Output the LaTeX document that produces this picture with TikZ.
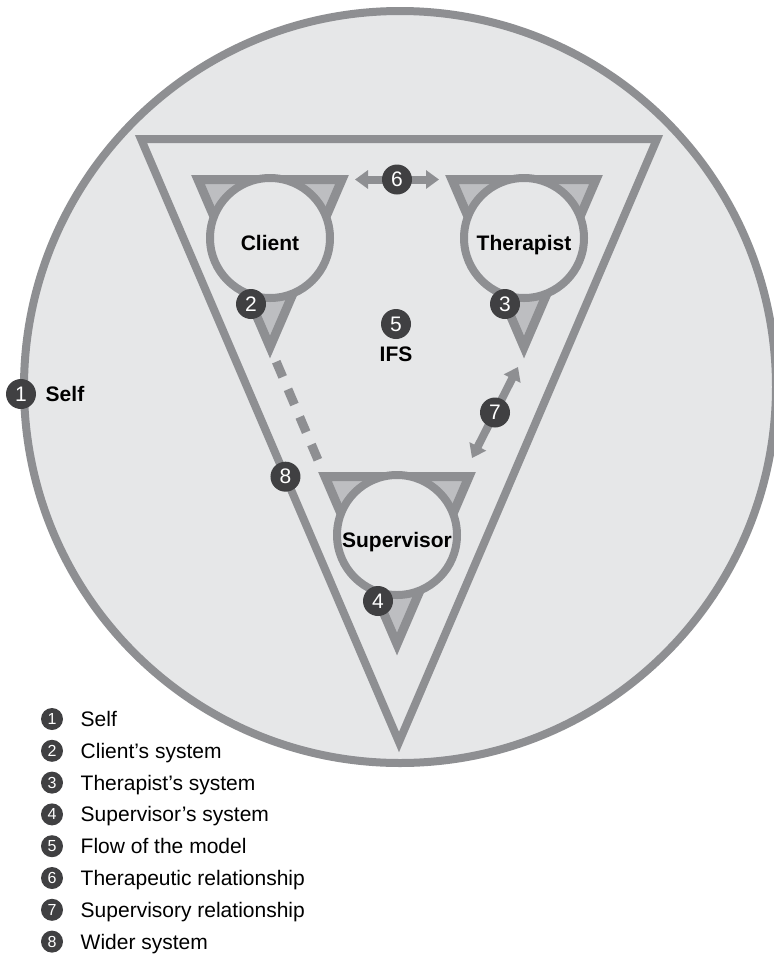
\documentclass[tikz,border=0pt]{standalone}
\usepackage{fontspec}
\setmainfont{Liberation Sans}
\usetikzlibrary{positioning,calc,arrows.meta}
\definecolor{linegray}{HTML}{8E8F92}
\definecolor{bggray}{HTML}{E6E7E8}
\definecolor{trigray}{HTML}{BDBEC1}
\definecolor{badgegray}{HTML}{404042}

\begin{document}
\begin{tikzpicture}[x=1pt, y=-1pt,
	unit/.style={circle, draw=linegray, fill=bggray, line width=8pt, minimum size=120pt, inner sep=0pt,
		text height=25pt, text depth=0pt, font=\bfseries\fontsize{21}{25}\selectfont},
	tri/.style={draw=linegray, fill=trigray, line width=9pt},
	badge/.style={circle, fill=badgegray, text=white, minimum size=30pt, inner sep=0pt, font=\fontsize{21}{21}\selectfont},
	keybadge/.style={badge, minimum size=22pt, font=\fontsize{16}{16}\selectfont},
	rel/.style={draw=linegray, line width=8pt, {Triangle[length=13pt,width=18pt]}-{Triangle[length=13pt,width=18pt]}},
	lbl/.style={font=\bfseries\fontsize{21}{25}\selectfont},
	keytext/.style={font=\fontsize{21}{25}\selectfont, text height=15pt, text depth=0pt}]

	\fill[white] (0,0) rectangle (774,959);
	\clip (0,0) rectangle (774,959);
	\node[circle, draw=linegray, fill=bggray, line width=8pt, minimum size=752pt, inner sep=0pt] (world) at (400,387) {};

	\coordinate (bigL) at (141,139);
	\coordinate (bigR) at (657,139);
	\coordinate (bigB) at (399,742);
	\draw[linegray, line width=8pt] (bigL) -- (bigR) -- (bigB) -- cycle;

	\foreach \nm/\x/\y/\txt/\num in {cli/270/175/Client/2, ther/524/175/Therapist/3, sup/397/472/Supervisor/4}{
		\coordinate (\nm-l) at (\x-72,\y+4.5);
		\coordinate (\nm-r) at (\x+72,\y+4.5);
		\coordinate (\nm-b) at (\x,\y+172);
		\draw[tri] (\nm-l) -- (\nm-r) -- (\nm-b) -- cycle;
		\node[unit] (\nm) at (\x,\y+63) {\txt};
		\node[badge] at ($(\nm)+(-19,66)$) {\num};
	}

	\coordinate (sup7) at (472,458);
	\coordinate (ther7) at (518,367);
	\draw[rel, shorten <=13pt, shorten >=13pt] (cli-r) -- (ther-l) node[badge, midway] {6};
	\draw[rel] (sup7) -- (ther7) node[badge, midway] {7};
	\draw[linegray, line width=9pt, dash pattern=on 16.5pt off 13.5pt, shorten <=16pt, shorten >=18pt] (cli-b) -- (sup-l);

	\node[badge] at ($(bigL)!0.56!(bigB)$) {8};
	\node[badge] (flow) at (396,324) {5};
	\node[lbl, below=4pt of flow] {IFS};
	\node[badge] (selfmark) at (21,394) {1};
	\node[lbl, right=6pt of selfmark] {Self};

	\foreach \i/\t in {1/Self, 2/Client's system, 3/Therapist's system, 4/Supervisor's system,
		5/Flow of the model, 6/Therapeutic relationship, 7/Supervisory relationship, 8/Wider system}{
		\node[keybadge] (k\i) at (52,719+31.8*\i-31.8) {\i};
		\node[keytext, right=14pt of k\i] {\t};
	}
\end{tikzpicture}
\end{document}
